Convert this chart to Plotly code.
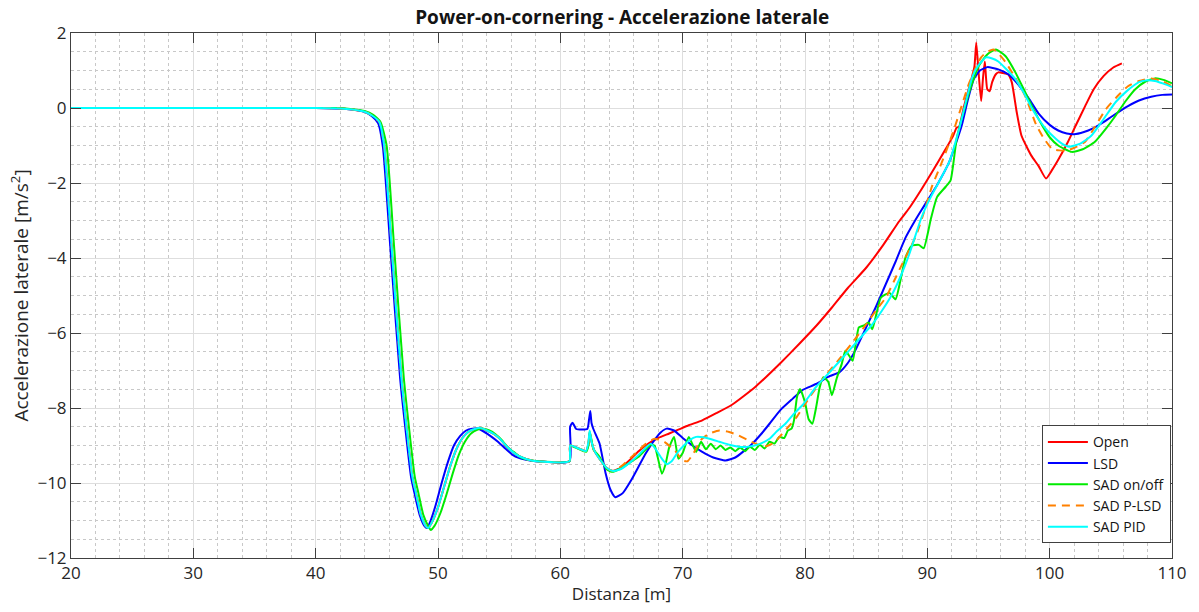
import plotly.graph_objects as go

# --- Lateral acceleration vs distance, five differential strategies ---

open_x = [20, 40, 42, 43, 44, 44.6, 45.2, 45.6, 46.2, 47.0, 47.9, 48.2, 48.6, 49.0, 49.2, 49.5, 50.0, 50.5,
          51.0, 51.5, 52.0, 52.5, 53.0, 53.5, 54.0, 54.5, 55.0, 55.5, 56.1, 56.6, 57.2, 58.0, 60.75,
          60.8, 61.5, 62.1, 62.3, 62.4, 62.55, 62.8, 63.3, 63.8, 64.3, 65.0, 65.7, 66.4, 67.2, 68.0, 68.9,
          69.7, 70.5, 71.6, 72.8, 74.0, 75.0, 76.0, 76.8, 78.0, 79.5, 81.0, 82.2, 83.5, 85.0, 86.4, 87.7,
          88.5, 89.5, 90.4, 91.4, 92.1, 92.4, 92.6, 93.0, 93.6, 93.85, 94.0, 94.2, 94.4, 94.55, 94.7, 94.9,
          95.1, 95.3, 95.6, 95.8, 96.2, 96.6, 96.9, 97.3, 97.7, 98.5, 99.1, 99.7, 100.2, 100.7, 101.5,
          102.2, 102.9, 103.6, 104.4, 105.2, 105.9]
open_y = [0, 0, -0.01, -0.04, -0.1, -0.2, -0.37, -1.0, -3.65, -7.18, -9.83, -10.27, -10.85, -11.15, -11.2,
          -11.05, -10.65, -10.1, -9.55, -9.1, -8.8, -8.63, -8.56, -8.53, -8.6, -8.68, -8.8, -8.98, -9.17,
          -9.28, -9.36, -9.42, -9.42,
          -9.0, -9.08, -9.15, -8.95, -8.65, -8.9, -9.15, -9.4, -9.6, -9.68, -9.58, -9.38, -9.15, -8.95,
          -8.8, -8.68, -8.57, -8.46, -8.33, -8.13, -7.92, -7.68, -7.42, -7.18, -6.8, -6.3, -5.78, -5.32,
          -4.8, -4.26, -3.65, -3.02, -2.68, -2.18, -1.7, -1.15, -0.75, -0.52, -0.5, 0.05, 0.77, 1.1, 1.75,
          0.9, 0.19, 0.8, 1.24, 0.5, 0.45, 0.69, 0.9, 0.95, 0.93, 0.9, 0.69, -0.1, -0.74, -1.27, -1.55,
          -1.88, -1.65, -1.38, -0.9, -0.42, 0.05, 0.5, 0.85, 1.08, 1.19]

lsd_x = [20, 40, 42, 43, 44, 44.6, 45.1, 45.5, 46.1, 46.9, 47.8, 48.1, 48.5, 48.9, 49.1, 49.4, 49.8, 50.3,
         50.8, 51.3, 51.8, 52.3, 52.8, 53.2, 53.7, 54.3, 54.9, 55.5, 56.1, 56.6, 57.2, 58.0, 60.75,
         60.8, 61.0, 61.3, 62.2, 62.35, 62.45, 62.55, 62.7, 63.2, 63.7, 64.1, 64.5, 65.1, 65.8, 66.4, 67.0,
         67.7, 68.2, 68.7, 69.3, 70.0, 70.8, 71.6, 72.5, 73.5, 74.3, 75.0, 75.7, 76.4, 77.1, 78.0, 79.0,
         79.8, 80.9, 82.0, 82.8, 83.5, 84.1, 85.0, 85.8, 86.6, 87.4, 88.2, 89.0, 89.6, 90.8, 91.8, 92.8,
         93.3, 93.8, 94.3, 94.9, 95.8, 96.6, 97.5, 98.3, 99.1, 100.0, 100.7, 101.4, 102.0, 102.8, 103.5,
         104.3, 105.2, 106.4, 107.3, 108.3, 109.2, 110.0]
lsd_y = [0, 0, -0.01, -0.04, -0.1, -0.22, -0.4, -1.05, -3.7, -7.2, -9.85, -10.3, -10.85, -11.15, -11.2,
         -11.0, -10.6, -10.0, -9.45, -9.0, -8.75, -8.6, -8.55, -8.55, -8.62, -8.75, -8.9, -9.08, -9.25,
         -9.33, -9.38, -9.42, -9.42,
         -8.5, -8.39, -8.56, -8.56, -8.3, -8.08, -8.4, -8.56, -8.94, -9.74, -10.18, -10.38, -10.27, -9.92,
         -9.56, -9.2, -8.85, -8.65, -8.55, -8.6, -8.8, -9.0, -9.17, -9.32, -9.4, -9.32, -9.15, -8.95, -8.7,
         -8.42, -8.05, -7.75, -7.52, -7.36, -7.15, -7.05, -6.8, -6.47, -5.85, -5.3, -4.7, -4.1, -3.47,
         -3.0, -2.68, -2.05, -1.43, -0.48, 0.2, 0.77, 1.0, 1.09, 1.03, 0.9, 0.6, 0.25, -0.15, -0.45, -0.6,
         -0.68, -0.7, -0.64, -0.55, -0.4, -0.2, 0.05, 0.2, 0.3, 0.35, 0.36]

onoff_x = [20, 40, 42, 43, 44, 44.7, 45.3, 45.8, 46.4, 47.2, 48.1, 48.4, 48.8, 49.2, 49.4, 49.7, 50.2, 50.7,
           51.2, 51.7, 52.2, 52.7, 53.2, 53.7, 54.2, 54.7, 55.2, 55.7, 56.3, 56.8, 57.4, 58.2, 60.75,
           60.8, 61.2, 62.1, 62.3, 62.4, 62.55, 62.7, 63.2, 63.75, 64.2, 65.0, 65.7, 66.4, 67.0, 67.4, 67.7,
           67.95, 68.3, 68.6, 68.9, 69.3, 69.65, 70.0, 70.5, 71.1, 71.5, 71.9, 72.3, 72.7, 73.1, 73.5, 73.9,
           74.3, 74.7, 75.1, 75.5, 75.9, 76.3, 76.7, 77.1, 77.5, 77.9, 78.3, 78.6, 78.9, 79.1, 79.35, 79.6,
           80.0, 80.3, 80.6, 80.9, 81.2, 81.5, 81.9, 82.2, 82.6, 83.0, 83.3, 83.6, 83.9, 84.4, 84.8, 85.2,
           85.5, 86.2, 86.9, 87.4, 87.8, 88.2, 88.7, 89.3, 89.7, 90.3, 90.8, 91.5, 91.9, 92.4, 93.1, 93.6,
           94.2, 94.9, 95.6, 96.4, 97.2, 98.0, 98.7, 99.4, 100.0, 100.7, 101.8, 102.7, 103.7, 104.6, 105.4,
           106.2, 107.0, 107.8, 108.6, 109.3, 110.0]
onoff_y = [0, 0, 0, -0.03, -0.08, -0.18, -0.37, -1.0, -3.65, -7.18, -9.83, -10.27, -10.85, -11.15, -11.25,
           -11.15, -10.8, -10.3, -9.75, -9.25, -8.9, -8.68, -8.58, -8.55, -8.6, -8.7, -8.85, -9.05, -9.2,
           -9.32, -9.38, -9.42, -9.42,
           -9.0, -9.05, -9.17, -9.0, -8.63, -8.85, -9.1, -9.3, -9.62, -9.7, -9.6, -9.45, -9.3, -9.1, -8.98,
           -9.0, -9.3, -9.75, -9.5, -9.05, -8.77, -9.35, -9.2, -8.77, -9.17, -8.9, -9.1, -8.95, -9.1, -9.0,
           -9.12, -9.05, -9.15, -9.05, -9.15, -9.03, -9.12, -8.98, -9.08, -8.9, -8.95, -8.77, -8.8, -8.6,
           -8.55, -8.33, -7.7, -7.49, -7.85, -8.3, -8.42, -8.0, -7.45, -7.18, -7.3, -7.66, -7.2, -6.83,
           -6.47, -6.6, -6.74, -5.85, -5.8, -5.72, -5.9, -5.06, -4.93, -5.1, -4.6, -4.0, -3.68, -3.65,
           -3.74, -2.94, -2.37, -2.1, -1.93, -0.82, 0.06, 0.6, 1.12, 1.43, 1.56, 1.38, 0.95, 0.42, -0.05,
           -0.47, -0.78, -1.0, -1.17, -1.1, -0.9, -0.55, -0.2, 0.18, 0.5, 0.7, 0.79, 0.75, 0.66]

plsd_x = [20, 40, 42, 43, 44, 44.6, 45.2, 45.6, 46.2, 47.0, 47.9, 48.2, 48.6, 49.0, 49.2, 49.5, 50.0, 50.5,
          51.0, 51.5, 52.0, 52.5, 53.0, 53.5, 54.0, 54.5, 55.0, 55.5, 56.1, 56.6, 57.2, 58.0, 60.75,
          60.8, 61.5, 62.1, 62.3, 62.4, 62.55, 62.8, 63.3, 63.8, 64.3, 65.0, 66.0, 67.0, 67.7, 68.5, 69.4,
          70.0, 70.4, 70.9, 71.5, 72.2, 73.0, 73.8, 74.5, 75.3, 76.1, 76.8, 77.5, 78.1, 78.7, 79.3, 80.3,
          81.5, 82.8, 84.0, 85.0, 85.8, 86.6, 87.3, 87.9, 88.5, 89.1, 89.8, 90.4, 91.0, 91.6, 92.2, 92.8,
          93.4, 94.0, 94.4, 94.8, 95.4, 95.9, 96.4, 97.2, 98.0, 98.9, 99.5, 100.2, 100.8, 101.3, 102.1,
          102.9, 103.7, 104.6, 105.5, 106.4, 107.3, 108.3, 109.2, 110.0]
plsd_y = [0, 0, -0.01, -0.04, -0.1, -0.2, -0.37, -1.0, -3.65, -7.18, -9.83, -10.27, -10.85, -11.15, -11.2,
          -11.05, -10.65, -10.1, -9.55, -9.1, -8.8, -8.63, -8.56, -8.53, -8.6, -8.68, -8.8, -8.98, -9.17,
          -9.28, -9.36, -9.42, -9.42,
          -9.0, -9.08, -9.15, -8.92, -8.62, -8.9, -9.15, -9.4, -9.6, -9.68, -9.55, -9.25, -8.95, -8.82,
          -8.9, -9.15, -9.4, -9.42, -9.2, -8.85, -8.68, -8.6, -8.64, -8.72, -8.85, -8.97, -9.02, -8.92,
          -8.7, -8.48, -8.25, -7.75, -7.2, -6.7, -6.2, -5.77, -5.4, -5.06, -4.6, -4.19, -3.8, -3.39, -2.7,
          -2.07, -1.6, -1.1, -0.55, 0.05, 0.65, 1.11, 1.35, 1.48, 1.56, 1.42, 1.22, 0.8, 0.32, -0.45, -0.8,
          -1.09, -1.13, -1.14, -1.05, -0.9, -0.5, -0.03, 0.3, 0.58, 0.72, 0.79, 0.72, 0.58]

pid_x = [20, 40, 42, 43, 44, 44.6, 45.2, 45.6, 46.2, 47.0, 47.9, 48.2, 48.6, 49.0, 49.2, 49.5, 50.0, 50.5,
         51.0, 51.5, 52.0, 52.5, 53.0, 53.5, 54.0, 54.5, 55.0, 55.5, 56.1, 56.6, 57.2, 58.0, 60.75,
         60.8, 61.5, 62.1, 62.3, 62.4, 62.55, 62.8, 63.3, 63.8, 64.3, 65.0, 65.7, 66.4, 67.0, 67.4, 67.8,
         68.3, 68.7, 69.1, 69.6, 70.1, 70.6, 71.1, 71.7, 72.2, 73.0, 73.8, 74.6, 75.4, 76.2, 77.1, 77.7,
         78.4, 79.1, 79.8, 80.9, 82.2, 83.6, 84.6, 85.5, 86.3, 87.1, 87.8, 88.5, 89.5, 90.1, 90.9, 91.8,
         92.6, 93.1, 93.7, 94.2, 94.8, 95.3, 95.8, 96.5, 97.2, 97.9, 98.5, 99.1, 99.8, 100.5, 101.0, 101.6,
         102.5, 103.4, 104.4, 105.4, 106.3, 107.3, 108.0, 108.6, 109.3, 110.0]
pid_y = [0, 0, -0.01, -0.04, -0.1, -0.2, -0.37, -1.0, -3.65, -7.18, -9.83, -10.27, -10.85, -11.15, -11.2,
         -11.05, -10.65, -10.1, -9.55, -9.1, -8.8, -8.63, -8.56, -8.53, -8.6, -8.68, -8.8, -8.98, -9.17,
         -9.28, -9.36, -9.42, -9.42,
         -9.0, -9.08, -9.15, -8.9, -8.6, -8.9, -9.15, -9.4, -9.6, -9.68, -9.62, -9.45, -9.25, -9.05, -8.95,
         -9.1, -9.35, -9.5, -9.42, -9.18, -9.0, -8.85, -8.77, -8.78, -8.82, -8.9, -8.98, -9.03, -9.03,
         -8.97, -8.82, -8.62, -8.42, -8.15, -7.92, -7.44, -6.98, -6.47, -6.1, -5.77, -5.4, -4.98, -4.5,
         -3.92, -2.94, -2.49, -2.0, -1.43, -0.56, 0.1, 0.85, 1.15, 1.35, 1.32, 1.24, 1.02, 0.77, 0.4, 0.02,
         -0.3, -0.6, -0.82, -0.95, -1.03, -0.95, -0.74, -0.3, 0.16, 0.45, 0.69, 0.74, 0.72, 0.65, 0.56]

series_names = ["Open", "LSD", "SAD on/off", "SAD P-LSD", "SAD PID"]
series_x = [open_x, lsd_x, onoff_x, plsd_x, pid_x]
series_y = [open_y, lsd_y, onoff_y, plsd_y, pid_y]
series_colors = ["rgb(255,0,0)", "rgb(0,0,255)", "rgb(0,235,0)", "rgb(255,128,0)", "rgb(0,255,255)"]
series_dash = ["solid", "solid", "solid", "8px,6px", "solid"]

for xs, ys in zip(series_x, series_y):
    assert len(xs) == len(ys), (len(xs), len(ys))

FONT = "Open Sans"
AX_COLOR = "rgb(64,64,64)"
TXT_COLOR = "rgb(38,38,38)"

fig = go.Figure()
for name, xs, ys, col, dash in zip(series_names, series_x, series_y, series_colors, series_dash):
    fig.add_trace(go.Scatter(
        x=xs, y=ys, name=name, mode="lines",
        line=dict(color=col, width=2, dash=dash, shape="spline", smoothing=0.5),
    ))

axis_common = dict(
    showline=True, linecolor=AX_COLOR, linewidth=1, mirror="ticks",
    ticks="inside", ticklen=10, tickcolor=AX_COLOR, tickwidth=1,
    showgrid=True, gridcolor="rgb(222,222,222)", gridwidth=1,
    zeroline=False,
    tickfont=dict(family=FONT, size=17, color=TXT_COLOR),
)

fig.update_xaxes(
    range=[20, 110], dtick=10, tick0=20,
    minor=dict(dtick=2, showgrid=True, gridcolor="rgb(200,200,200)", griddash="dot", gridwidth=1),
    title=dict(text="Distanza [m]", font=dict(family=FONT, size=17, color=TXT_COLOR), standoff=4),
    **axis_common,
)
fig.update_yaxes(
    range=[-12, 2], dtick=2, tick0=0,
    minor=dict(dtick=0.5, showgrid=True, gridcolor="rgb(200,200,200)", griddash="dot", gridwidth=1),
    title=dict(text="Accelerazione laterale [m/s<sup>2</sup>]",
               font=dict(family=FONT, size=19, color=TXT_COLOR), standoff=3),
    **axis_common,
)

fig.update_layout(
    width=1199, height=612,
    margin=dict(l=71, r=25, t=33, b=50),
    paper_bgcolor="white", plot_bgcolor="white",
    title=dict(text="<b>Power-on-cornering - Accelerazione laterale</b>",
               font=dict(family=FONT, size=19, color="rgb(20,20,20)"),
               x=0.519, xanchor="center", y=0.972, yanchor="middle"),
    legend=dict(
        x=0.999, xanchor="right", y=0.028, yanchor="bottom",
        bgcolor="white", bordercolor=AX_COLOR, borderwidth=1,
        font=dict(family=FONT, size=14, color="rgb(20,20,20)"),
        tracegroupgap=0, itemwidth=40,
    ),
    showlegend=True,
)

fig.write_html("out.html")
